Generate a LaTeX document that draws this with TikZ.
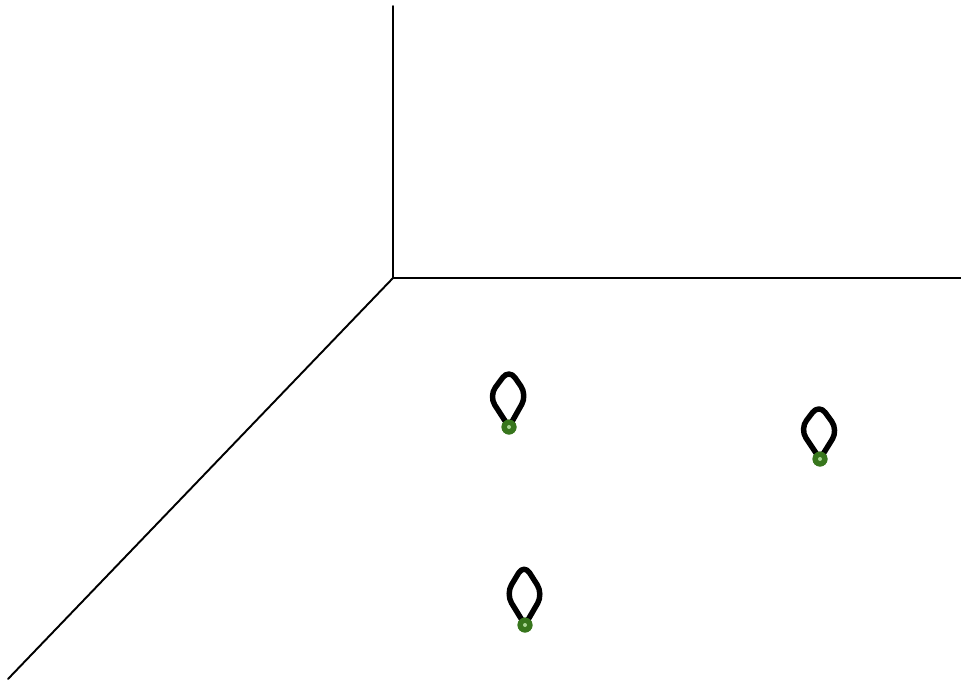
\documentclass[tikz,border=0pt]{standalone}
\usepackage{tikz}
\usetikzlibrary{positioning}
\definecolor{dotgreen}{RGB}{56,118,29}
\definecolor{dotlight}{RGB}{170,215,150}

\begin{document}
\begin{tikzpicture}[
    x=0.02cm, y=-0.02cm,
    axis/.style={line width=1.1pt, line cap=round},
    loopline/.style={line width=3.1pt, rounded corners=6pt, line join=round},
    vertex/.style={circle, fill=dotgreen, inner sep=0pt, minimum size=0.3cm,
      path picture={\fill[dotlight] (path picture bounding box.center) circle (0.04cm);}}
  ]
  \useasboundingbox (0,0) rectangle (961,681);

  % axes
  \coordinate (origin) at (393,278);
  \coordinate (up) at (393,6);
  \coordinate (right) at (961,278);
  \coordinate (down) at (8,679);
  \draw[axis] (origin) -- (up);
  \draw[axis] (origin) -- (right);
  \draw[axis] (origin) -- (down);

  % vertices
  \node[vertex] (p1) at (509,427) {};
  \node[vertex] (p2) at (820,459) {};
  \node[vertex] (p3) at (525,625) {};

  % loops
  \draw[loopline] (p1.center) -- ++(-20,-31) -- ++(20,-27) -- ++(18,26) -- (p1.center);
  \draw[loopline] (p2.center) -- ++(-20,-30) -- ++(19,-25) -- ++(19,26) -- (p2.center);
  \draw[loopline] (p3.center) -- ++(-19,-31) -- ++(18,-30) -- ++(19,30) -- (p3.center);

  % redraw vertices on top
  \node[vertex] at (p1) {};
  \node[vertex] at (p2) {};
  \node[vertex] at (p3) {};
\end{tikzpicture}
\end{document}
